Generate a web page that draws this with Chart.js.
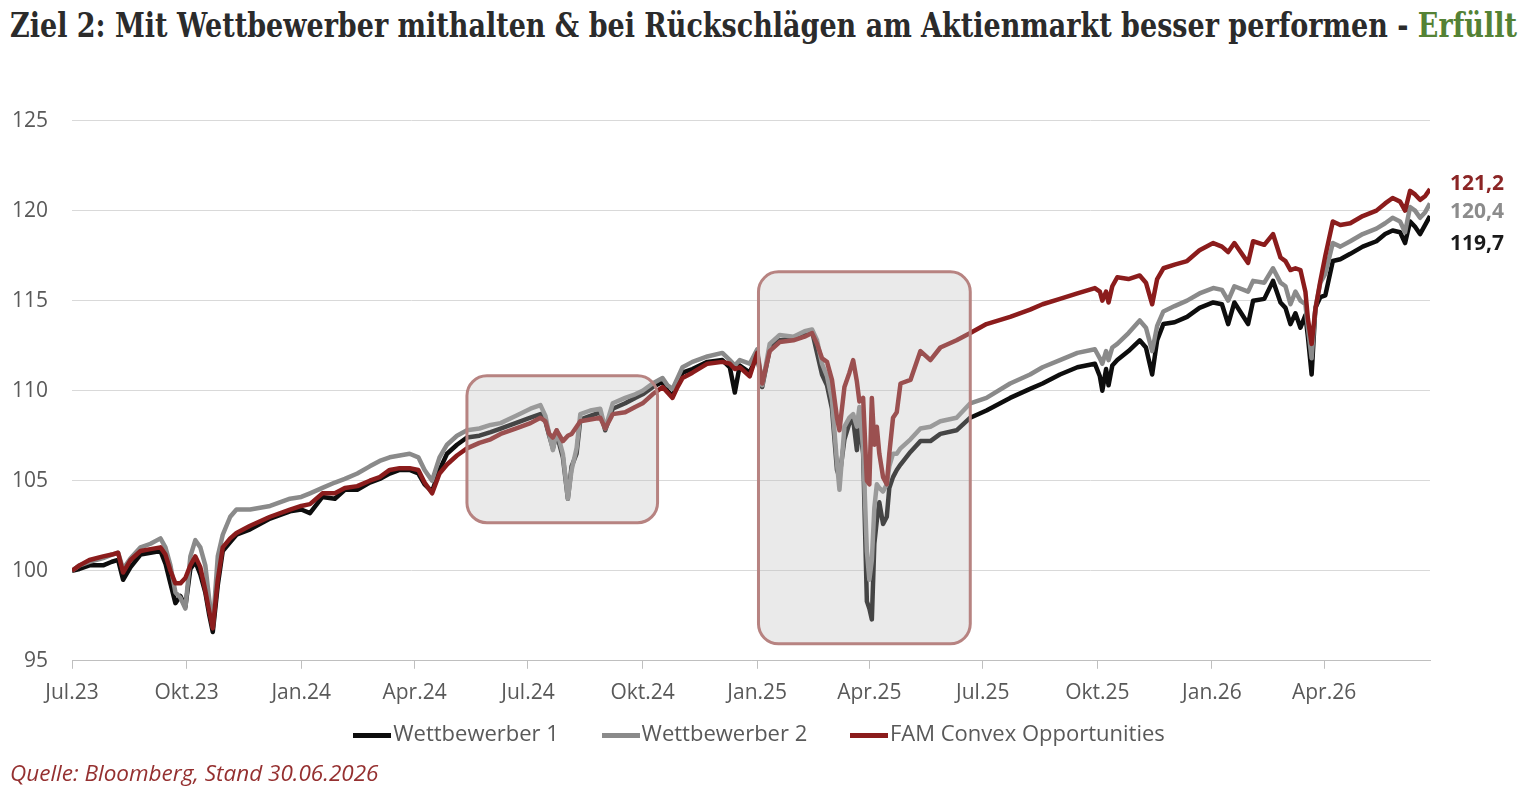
<!DOCTYPE html>
<html lang="de">
<head>
<meta charset="utf-8">
<title>Ziel 2 - Wettbewerbervergleich</title>
<script src="https://cdn.jsdelivr.net/npm/chart.js@4.4.1/dist/chart.umd.min.js"></script>
<style>
  html, body { margin: 0; padding: 0; background: #fff; }
  body { width: 1527px; height: 793px; position: relative; overflow: hidden; }
  #title {
    position: absolute; left: 10px; top: 5px; white-space: nowrap;
    font-family: "DejaVu Serif", serif; font-weight: bold; font-size: 34px;
    color: #2b2b2b; transform-origin: 0 0;
  }
  #title .ok { color: #548235; }
  #wrap { position: absolute; left: 0; top: 84px; }
  #source {
    position: absolute; left: 10px; top: 757px;
    font-family: "Open Sans", sans-serif; font-style: italic; font-size: 22.5px;
    color: #953030;
  }
</style>
</head>
<body>
<div id="title">Ziel 2: Mit Wettbewerber mithalten &amp; bei Rückschlägen am Aktienmarkt besser performen - <span class="ok">Erfüllt</span></div>
<div id="wrap"><canvas id="myChart" width="1527" height="686"></canvas></div>
<div id="source">Quelle: Bloomberg, Stand 30.06.2026</div>
<script>
// days since 01.07.2023
const days = [
  0, 6, 14, 25, 32, 37, 41, 47, 55, 63,
  71, 75, 79, 83, 87, 91, 95, 99, 103, 107,
  110, 113, 117, 121, 127, 132, 143, 159, 175, 184,
  191, 201, 211, 219, 229, 239, 247, 255, 263, 271,
  278, 283, 289, 295, 301, 309, 317, 327, 336, 344,
  356, 368, 376, 380, 383, 386, 389, 394, 398, 401,
  405, 408, 416, 424, 428, 434, 444, 452, 458, 466,
  474, 478, 482, 486, 490, 498, 510, 522, 528, 532,
  536, 544, 550, 554, 560, 568, 579, 588, 594, 598,
  602, 606, 610, 614, 616, 620, 624, 627, 630, 632,
  635, 638, 640, 642, 644, 646, 648, 651, 654, 656,
  659, 662, 665, 673, 681, 689, 697, 710, 721, 734,
  753, 769, 779, 793, 807, 821, 825, 827, 830, 832,
  835, 839, 848, 857, 862, 867, 871, 876, 885, 895,
  905, 916, 923, 928, 933, 944, 948, 957, 964, 970,
  974, 978, 982, 986, 990, 992, 995, 998, 1002, 1006,
  1012, 1018, 1026, 1036, 1047, 1054, 1060, 1066, 1070, 1074,
  1078, 1082, 1086, 1090
];

const wettbewerber1 = [
  100, 100.1, 100.3, 100.3, 100.5, 100.6, 99.5, 100.2, 100.9, 101.0,
  101.1, 100.4, 99.3, 98.2, 98.6, 98.0, 100.1, 100.5, 99.8, 98.8,
  97.6, 96.6, 99.2, 101.1, 101.6, 102.0, 102.3, 102.9, 103.3, 103.4,
  103.2, 104.1, 104.0, 104.5, 104.5, 104.9, 105.1, 105.4, 105.6, 105.6,
  105.4, 104.8, 104.4, 105.6, 106.5, 107.0, 107.4, 107.5, 107.7, 107.9,
  108.2, 108.5, 108.7, 108.3, 107.5, 106.8, 107.6, 106.3, 104.0, 105.8,
  106.5, 108.4, 108.6, 108.8, 107.8, 109.0, 109.3, 109.6, 109.8, 110.2,
  110.5, 110.0, 109.7, 110.4, 111.0, 111.2, 111.6, 111.7, 111.3, 109.9,
  111.4, 111.0, 112.0, 110.2, 112.3, 112.8, 112.9, 113.1, 113.3, 112.1,
  110.9, 110.3, 109.0, 105.6, 105.2, 107.3, 108.2, 108.4, 106.7, 108.3,
  106.5, 98.3, 97.9, 97.3, 101.5, 102.8, 103.8, 102.6, 103.0, 104.6,
  105.2, 105.6, 105.9, 106.6, 107.2, 107.2, 107.6, 107.8, 108.5, 108.9,
  109.6, 110.1, 110.4, 110.9, 111.3, 111.5, 110.8, 110.0, 111.2, 110.3,
  111.4, 111.7, 112.2, 112.8, 112.4, 110.9, 112.8, 113.7, 113.8, 114.1,
  114.6, 114.9, 114.8, 113.7, 114.9, 113.7, 115.0, 115.1, 116.1, 114.9,
  114.6, 113.7, 114.3, 113.5, 114.2, 113.0, 110.9, 114.6, 115.2, 115.3,
  117.2, 117.3, 117.6, 118.0, 118.3, 118.7, 118.9, 118.8, 118.2, 119.4,
  119.1, 118.7, 119.2, 119.7
];

const wettbewerber2 = [
  100, 100.3, 100.5, 100.7, 100.9, 101.0, 100.1, 100.7, 101.3, 101.5,
  101.8, 101.3, 100.3, 98.8, 98.5, 97.9, 100.8, 101.7, 101.3, 100.3,
  98.5, 96.9, 100.8, 102.0, 103.0, 103.4, 103.4, 103.6, 104.0, 104.1,
  104.3, 104.6, 104.9, 105.1, 105.4, 105.8, 106.1, 106.3, 106.4, 106.5,
  106.3, 105.6, 105.0, 106.3, 107.0, 107.5, 107.8, 107.9, 108.1, 108.2,
  108.6, 109.0, 109.2, 108.6, 107.6, 106.7, 107.8, 106.5, 104.0, 105.6,
  106.8, 108.7, 108.9, 109.0, 107.9, 109.3, 109.6, 109.8, 110.0, 110.4,
  110.7, 110.3, 110.1, 110.7, 111.3, 111.6, 111.9, 112.1, 111.7, 111.4,
  111.7, 111.5, 112.3, 110.3, 112.6, 113.1, 113.0, 113.3, 113.4, 112.8,
  111.5, 110.8, 109.5, 106.0, 104.5, 108.0, 108.5, 108.7, 108.0, 109.1,
  106.8, 101.1, 99.5, 100.6, 103.5, 104.8, 104.6, 104.4, 104.8, 105.8,
  106.5, 106.5, 106.8, 107.3, 107.9, 108.0, 108.3, 108.5, 109.3, 109.6,
  110.4, 110.9, 111.3, 111.7, 112.1, 112.3, 111.8, 111.5, 112.2, 111.7,
  112.4, 112.6, 113.2, 113.9, 113.5, 112.2, 113.6, 114.4, 114.7, 115.0,
  115.4, 115.7, 115.6, 115.0, 115.8, 115.5, 116.1, 116.0, 116.8, 116.0,
  115.8, 114.8, 115.5, 115.0, 114.8, 113.5, 111.8, 114.6, 116.0, 116.5,
  118.2, 118.0, 118.3, 118.7, 119.0, 119.3, 119.6, 119.4, 118.8, 120.2,
  120.0, 119.6, 119.9, 120.4
];

const famConvex = [
  100, 100.3, 100.6, 100.8, 100.9, 101.0, 99.9, 100.6, 101.1, 101.2,
  101.3, 100.9, 100.0, 99.3, 99.3, 99.6, 100.3, 100.8, 100.2, 98.9,
  97.8, 96.8, 99.5, 101.3, 101.8, 102.1, 102.5, 103.0, 103.4, 103.6,
  103.7, 104.3, 104.3, 104.6, 104.7, 105.0, 105.2, 105.6, 105.7, 105.7,
  105.6, 104.9, 104.3, 105.4, 105.9, 106.4, 106.8, 107.1, 107.3, 107.6,
  107.9, 108.2, 108.5, 108.3, 107.6, 107.4, 107.8, 107.2, 107.5, 107.6,
  108.0, 108.3, 108.4, 108.5, 107.9, 108.7, 108.8, 109.1, 109.3, 109.8,
  110.2, 109.9, 109.6, 110.2, 110.7, 111.0, 111.5, 111.6, 111.5, 111.2,
  111.3, 110.8, 112.1, 110.4, 112.2, 112.7, 112.8, 113.0, 113.2, 112.6,
  111.8, 111.6, 110.6, 108.5, 107.8, 110.2, 111.0, 111.7, 110.5, 109.4,
  109.6, 105.0, 104.8, 109.6, 107.0, 108.0, 106.5, 105.2, 104.8, 106.5,
  108.5, 108.8, 110.4, 110.6, 112.2, 111.7, 112.4, 112.8, 113.2, 113.7,
  114.1, 114.5, 114.8, 115.1, 115.4, 115.7, 115.5, 115.0, 115.5, 114.9,
  115.8, 116.3, 116.2, 116.4, 116.0, 114.8, 116.2, 116.8, 117.0, 117.2,
  117.8, 118.2, 118.0, 117.7, 118.2, 117.1, 118.3, 118.1, 118.7, 117.4,
  117.2, 116.7, 116.8, 116.7, 115.5, 114.0, 112.6, 114.5, 116.1, 117.5,
  119.4, 119.2, 119.3, 119.7, 120.0, 120.4, 120.7, 120.5, 120.0, 121.1,
  120.9, 120.6, 120.8, 121.2
];

const quarterDays = [0, 92, 184, 275, 366, 458, 550, 640, 731, 823, 915, 1005];
const quarterLabels = ["Jul.23", "Okt.23", "Jan.24", "Apr.24", "Jul.24", "Okt.24",
  "Jan.25", "Apr.25", "Jul.25", "Okt.25", "Jan.26", "Apr.26"];

// the two grey highlight boxes (days / index values)
const highlightBoxes = [
  { from: 317, to: 470, low: 102.67, high: 110.83 },
  { from: 551, to: 721, low: 95.94, high: 116.6 }
];

const lineColors = ["#0d0d0d", "#8a8a8a", "#8b1c1c"];
const labelColors = ["#1a1a1a", "#8c8c8c", "#8b2525"];

const toPoints = (vals) => vals.map((v, i) => ({ x: days[i], y: v }));

// legend swatch: a short thick line that runs right up to the text
function swatch(color) {
  const c = document.createElement("canvas");
  c.width = 38;
  c.height = 5;
  const g = c.getContext("2d");
  g.fillStyle = color;
  g.fillRect(0, 0, 38, 5);
  return c;
}

const boxPlugin = {
  id: "boxes",
  afterDatasetsDraw(chart) {
    const { ctx, scales: { x, y } } = chart;
    ctx.save();
    highlightBoxes.forEach((b) => {
      const l = x.getPixelForValue(b.from), r = x.getPixelForValue(b.to);
      const t = y.getPixelForValue(b.high), btm = y.getPixelForValue(b.low);
      ctx.beginPath();
      ctx.roundRect(l, t, r - l, btm - t, 20);
      ctx.fillStyle = "rgba(190,190,190,0.32)";
      ctx.fill();
      ctx.lineWidth = 3;
      ctx.strokeStyle = "#b78381";
      ctx.stroke();
    });
    ctx.restore();
  }
};

const endLabels = {
  id: "endLabels",
  afterDatasetsDraw(chart) {
    const { ctx, chartArea, scales } = chart;
    const nudge = [28, 9, -5]; // spread the labels so they don't overlap
    ctx.save();
    ctx.font = 'bold 21px "Open Sans"';
    ctx.textBaseline = "middle";
    chart.data.datasets.forEach((ds, i) => {
      const last = ds.data[ds.data.length - 1].y;
      ctx.fillStyle = labelColors[i];
      ctx.fillText(last.toFixed(1).replace(".", ","), chartArea.right + 20,
        scales.y.getPixelForValue(last) + nudge[i]);
    });
    ctx.restore();
  }
};

const tickFont = { family: "Open Sans", size: 21 };

const ctx = document.getElementById("myChart").getContext("2d");
const myChart = new Chart(ctx, {
  type: "line",
  data: {
    datasets: [
      {
        label: "Wettbewerber 1",
        data: toPoints(wettbewerber1),
        borderColor: lineColors[0],
        backgroundColor: lineColors[0],
        pointStyle: swatch(lineColors[0]),
        order: 2
      },
      {
        label: "Wettbewerber 2",
        data: toPoints(wettbewerber2),
        borderColor: lineColors[1],
        backgroundColor: lineColors[1],
        pointStyle: swatch(lineColors[1]),
        order: 1
      },
      {
        label: "FAM Convex Opportunities",
        data: toPoints(famConvex),
        borderColor: lineColors[2],
        backgroundColor: lineColors[2],
        pointStyle: swatch(lineColors[2]),
        order: 0
      }
    ]
  },
  options: {
    responsive: false,
    animation: false,
    devicePixelRatio: 1,
    layout: { padding: { top: 20, left: 0, right: 0, bottom: 14 } },
    elements: {
      line: { borderWidth: 4.5, tension: 0, borderJoinStyle: "round" },
      point: { radius: 0 }
    },
    plugins: {
      legend: {
        position: "bottom",
        labels: {
          usePointStyle: true,
          pointStyleWidth: 20,
          padding: 6,
          color: "#595959",
          font: { family: "Open Sans", size: 22 },
          generateLabels(chart) {
            const items = Chart.defaults.plugins.legend.labels.generateLabels(chart);
            items.sort((a, b) => a.datasetIndex - b.datasetIndex);
            // extra room between the entries
            items.forEach((it, i) => { if (i < items.length - 1) it.text += "        "; });
            return items;
          }
        }
      },
      tooltip: { enabled: false }
    },
    scales: {
      x: {
        type: "linear",
        min: 0,
        max: 1090,
        afterBuildTicks: (s) => { s.ticks = quarterDays.map((d) => ({ value: d })); },
        ticks: {
          autoSkip: false,
          maxRotation: 0,
          padding: 12,
          color: "#595959",
          font: tickFont,
          callback: (v, i) => quarterLabels[i]
        },
        grid: { drawOnChartArea: false, drawTicks: true, tickLength: 8, color: "#bfbfbf" },
        border: { display: true, color: "#bfbfbf", width: 1 }
      },
      y: {
        min: 95,
        max: 125,
        afterFit: (s) => { s.width = 72; },
        ticks: {
          stepSize: 5,
          padding: 24,
          color: "#595959",
          font: tickFont
        },
        grid: { color: "#d9d9d9", drawTicks: false },
        border: { display: false }
      },
      y2: {
        position: "right",
        afterFit: (s) => { s.width = 97; },
        ticks: { display: false },
        grid: { display: false },
        border: { display: false }
      }
    }
  },
  plugins: [boxPlugin, endLabels]
});

// stretch the title to the full width like in the original
const title = document.getElementById("title");
title.style.transform = "scaleX(" + (1507 / title.offsetWidth) + ")";
</script>
</body>
</html>
